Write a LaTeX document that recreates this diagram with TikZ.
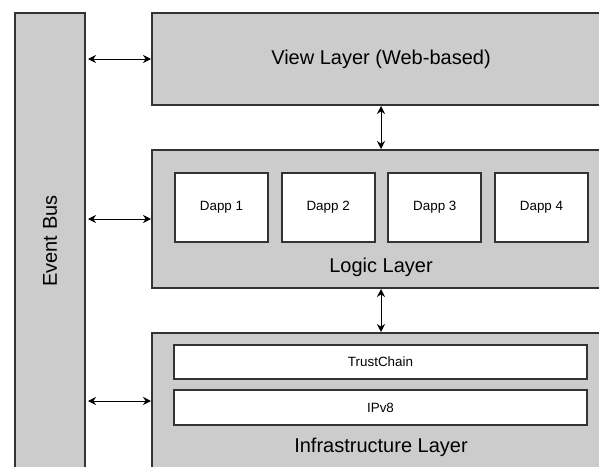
\documentclass[tikz,border=0pt]{standalone}
\usepackage{fontspec}
\setmainfont{Liberation Sans}
\usetikzlibrary{positioning,arrows.meta}
\definecolor{layerGray}{HTML}{CCCCCC}
\definecolor{edgeGray}{HTML}{333333}
\tikzset{layerBox/.style={
    draw=edgeGray,
    fill=layerGray,
    line width=2pt,
    inner sep=0pt,
    font=\fontsize{20}{24}\selectfont},
  innerBox/.style={
    draw=edgeGray,
    fill=white,
    line width=2pt,
    inner sep=0pt,
    font=\fontsize{13.4}{16}\selectfont},
  arrowStyle/.style={
    {Stealth[length=8pt,width=8pt]}-{Stealth[length=8pt,width=8pt]},
    line width=1pt,
    shorten <=2pt}
}

\begin{document}
\begin{tikzpicture}[x=1pt,y=-1pt]
      \useasboundingbox (0,0) rectangle (599,466);
      \clip (0,0) rectangle (599,466);

      % event bus on the left
      \node[layerBox,minimum width=70pt,minimum height=456pt]
      (bus) at (50,241) {};
      \node[rotate=90,font=\fontsize{20}{24}\selectfont]
      (busLabel) at (50,241) {Event Bus};

      % the three layers
      \node[layerBox,minimum width=458pt,minimum height=92pt]
      (view) at (381,59) {View Layer (Web-based)};
      \node[layerBox,minimum width=458pt,minimum height=138pt]
      (logic) at (381,219) {};
      \node[layerBox,minimum width=458pt,minimum height=136pt]
      (infra) at (381,401) {};

      \node (logicLabel) at (381,267)
      [font=\fontsize{20}{24}\selectfont] {Logic Layer};
      \node (infraLabel) at (381,447)
      [font=\fontsize{20}{24}\selectfont] {Infrastructure Layer};

      % dapps
      \foreach \i in {1,...,4}{
        \pgfmathsetmacro{\x}{221.5+106.67*(\i-1)}
        \node[innerBox,minimum width=93pt,minimum height=69pt]
        (dapp\i) at (\x,207.5) {Dapp \i};
      }

      % infrastructure parts
      \node[innerBox,minimum width=413pt,minimum height=34pt]
      (trustchain) at (380.5,362) {TrustChain};
      \node[innerBox,minimum width=413pt,minimum height=35pt]
      (ipv) at (380.5,407.5) {IPv8};

      % connectors
      \draw[arrowStyle] (bus.east |- view.west) -- (view.west);
      \draw[arrowStyle] (bus.east |- logic.west) -- (logic.west);
      \draw[arrowStyle] (bus.east |- infra.west) -- (infra.west);
      \draw[arrowStyle,shorten <=0pt] (view.south) -- (logic.north);
      \draw[arrowStyle,shorten <=0pt] (logic.south) -- (infra.north);
    \end{tikzpicture}
\end{document}
